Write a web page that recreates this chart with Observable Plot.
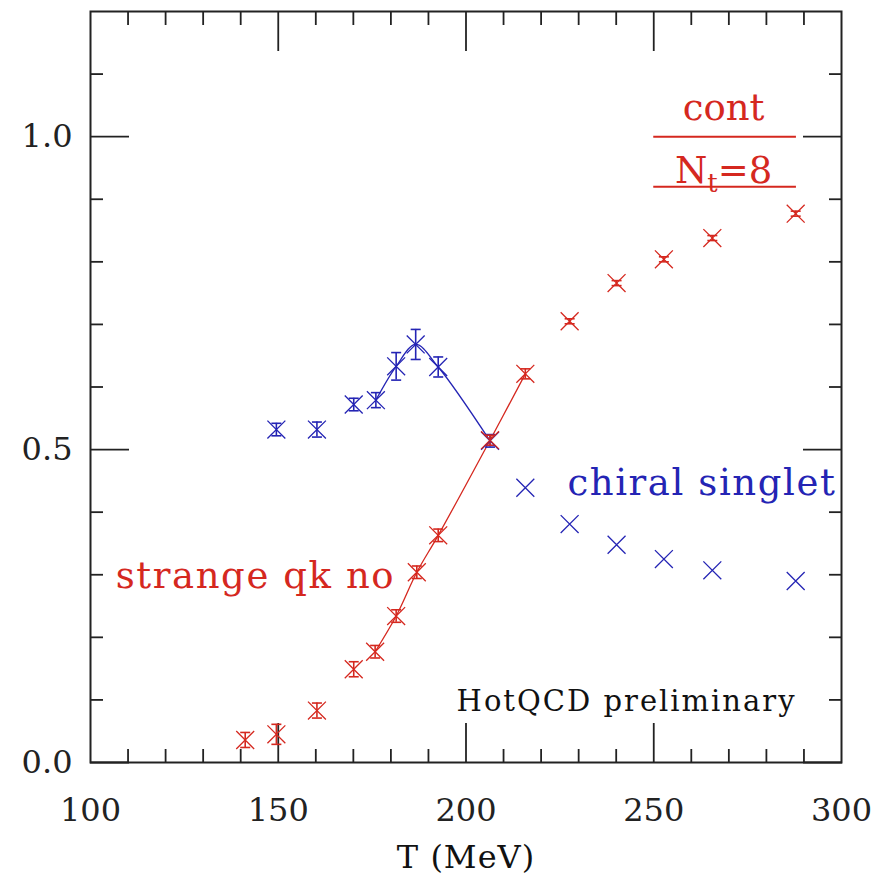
<!DOCTYPE html>
<html><head><meta charset="utf-8">
<script src="https://cdn.jsdelivr.net/npm/d3@7"></script>
<script src="https://cdn.jsdelivr.net/npm/@observablehq/plot@0.6"></script>
<style>body{margin:0;background:#fff;} #chart svg{display:block}</style>
</head><body><div id="chart"></div>
<script>
// strange quark number (red)
const strangeT = [141.2,149.5,160.3,170.1,175.8,181.4,186.9,192.6,206.4,215.8,227.6,240.1,252.7,265.6,287.8];
const strangeV = [0.036,0.045,0.083,0.149,0.177,0.234,0.304,0.363,0.515,0.621,0.705,0.766,0.804,0.838,0.877];
const strangeErr = [0.012,0.016,0.012,0.012,0.010,0.010,0.010,0.010,0.008,0.008,0.004,0.004,0.004,0.004,0.004];
// chiral singlet (blue)
const chiralT = [149.5,160.3,170.1,176.0,181.4,186.6,192.6,206.4,215.8,227.6,240.1,252.7,265.6,287.8];
const chiralV = [0.532,0.532,0.572,0.579,0.633,0.668,0.632,0.514,0.439,0.381,0.348,0.325,0.307,0.290];
const chiralErr = [0.010,0.012,0.010,0.012,0.022,0.024,0.016,0.010,0,0,0,0,0,0];
// fitted curves
const strangeCurveT = [175.8,181.4,186.9,192.6,206.4,215.8];
const strangeCurveV = [0.177,0.234,0.304,0.363,0.515,0.621];
const chiralCurveT = [176.0,181.4,186.6,192.6,206.4];
const chiralCurveV = [0.579,0.633,0.668,0.632,0.514];
// legend rules
const legendY = [1.0, 0.92];
const legendX = [250, 288];
// ticks
const xMajor = [100,150,200,250,300];
const xMajorInner = [150,200,250];
const xMinor = [110,120,130,140,160,170,180,190,210,220,230,240,260,270,280,290];
const yMajor = [0.0,0.5,1.0];
const yMinor = [0.1,0.2,0.3,0.4,0.6,0.7,0.8,0.9,1.1];
// texts
const xLabel = "T (MeV)";
const labelStrange = "strange qk no";
const labelChiral = "chiral singlet";
const labelCont = "cont";
const labelNt = "Nt=8";
const labelHot = "HotQCD preliminary";

const RED = "#d5281f", BLUE = "#2424b4", INK = "#222";

const rows = (T, V, E) => T.map((t, i) => ({T: t, v: V[i], e: E ? E[i] : 0}));
const strange = rows(strangeT, strangeV, strangeErr);
const chiral = rows(chiralT, chiralV, chiralErr);
const strangeCurve = rows(strangeCurveT, strangeCurveV);
const chiralCurve = rows(chiralCurveT, chiralCurveV);

const cap = {draw(ctx) { ctx.moveTo(-5, 0); ctx.lineTo(5, 0); }};
const blank = () => "";

function errMarks(data, color) {
  const d = data.filter(r => r.e > 0);
  return [
    Plot.ruleX(d, {x: "T", y1: r => r.v - r.e, y2: r => r.v + r.e, stroke: color, strokeWidth: 1.6}),
    Plot.dot(d, {x: "T", y: r => r.v - r.e, symbol: cap, r: 5, stroke: color, strokeWidth: 1.6}),
    Plot.dot(d, {x: "T", y: r => r.v + r.e, symbol: cap, r: 5, stroke: color, strokeWidth: 1.6})
  ];
}
const tk = (anchor, ticks, size) => (anchor === "top" || anchor === "bottom" ? Plot.axisX : Plot.axisY)(ticks,
  {anchor, tickSize: size, tickFormat: blank, label: null, stroke: INK, strokeWidth: 1.8});

const chart = Plot.plot({
  width: 880, height: 876,
  marginLeft: 90, marginRight: 39, marginTop: 11, marginBottom: 114,
  style: {fontFamily: "DejaVu Serif", fontSize: "31px", background: "white", color: INK},
  x: {domain: [100, 300], label: null},
  y: {domain: [0, 1.2], label: null},
  marks: [
    // axes: labels
    Plot.axisX(xMajor, {anchor: "bottom", tickSize: 0, tickPadding: 36, tickFormat: d => d, label: null, fontSize: 32}),
    Plot.axisY(yMajor, {anchor: "left", tickSize: 0, tickPadding: 18, tickFormat: d3.format(".1f"), label: null, fontSize: 32}),
    // inward ticks
    tk("bottom", xMinor, -13), tk("bottom", xMajorInner, -39),
    tk("top", xMinor, -13), tk("top", xMajorInner, -39),
    tk("left", yMinor, -13), tk("left", yMajor, -39),
    tk("right", yMinor, -13), tk("right", yMajor, -39),
    Plot.frame({stroke: INK, strokeWidth: 2}),
    // legend rules
    Plot.ruleY(legendY, {x1: legendX[0], x2: legendX[1], stroke: RED, strokeWidth: 2}),
    // curves
    Plot.line(chiralCurve, {x: "T", y: "v", curve: "catmull-rom", stroke: BLUE, strokeWidth: 1.3}),
    Plot.line(strangeCurve, {x: "T", y: "v", curve: "catmull-rom", stroke: RED, strokeWidth: 1.3}),
    // error bars
    ...errMarks(chiral, BLUE),
    ...errMarks(strange, RED),
    // points
    Plot.dot(chiral, {x: "T", y: "v", symbol: "times", r: 8.2, stroke: BLUE, strokeWidth: 1.3}),
    Plot.dot(strange, {x: "T", y: "v", symbol: "times", r: 8.2, stroke: RED, strokeWidth: 1.3}),
    // annotations
    Plot.text([labelStrange], {x: 106.7, y: 0.279, textAnchor: "start", lineAnchor: "bottom", fill: RED, fontSize: 37, className: "sp2"}),
    Plot.text([labelChiral], {x: 227, y: 0.428, textAnchor: "start", lineAnchor: "bottom", fill: BLUE, fontSize: 37, className: "sp2"}),
    Plot.text([labelCont], {x: 268.6, y: 1.027, textAnchor: "middle", lineAnchor: "bottom", fill: RED, fontSize: 37}),
    Plot.text([labelNt], {x: 268.6, y: 0.9266, textAnchor: "middle", lineAnchor: "bottom", fill: RED, fontSize: 37, className: "ntlabel"}),
    Plot.text([labelHot], {x: 197.5, y: 0.083, textAnchor: "start", lineAnchor: "bottom", fill: "#111", fontSize: 29, className: "sp3"}),
    Plot.text([xLabel], {frameAnchor: "bottom", dy: 105, lineAnchor: "bottom", fill: "#111", fontSize: 32, className: "sp1"})
  ]
});
document.getElementById("chart").appendChild(chart);
chart.querySelectorAll(".sp2 text").forEach(t => t.setAttribute("letter-spacing", "1.6"));
chart.querySelectorAll(".sp3 text").forEach(t => t.setAttribute("letter-spacing", "2"));
chart.querySelectorAll(".sp1 text").forEach(t => t.setAttribute("letter-spacing", "1"));

// subscript t in "Nt=8"
const nt = chart.querySelector(".ntlabel text");
if (nt) {
  const ns = "http://www.w3.org/2000/svg";
  nt.textContent = "";
  const a = document.createElementNS(ns, "tspan"); a.textContent = "N";
  const b = document.createElementNS(ns, "tspan"); b.textContent = "t"; b.setAttribute("dy", "9"); b.setAttribute("font-size", "26");
  const c = document.createElementNS(ns, "tspan"); c.textContent = "=8"; c.setAttribute("dy", "-9");
  nt.append(a, b, c);
}
</script>
</body></html>
